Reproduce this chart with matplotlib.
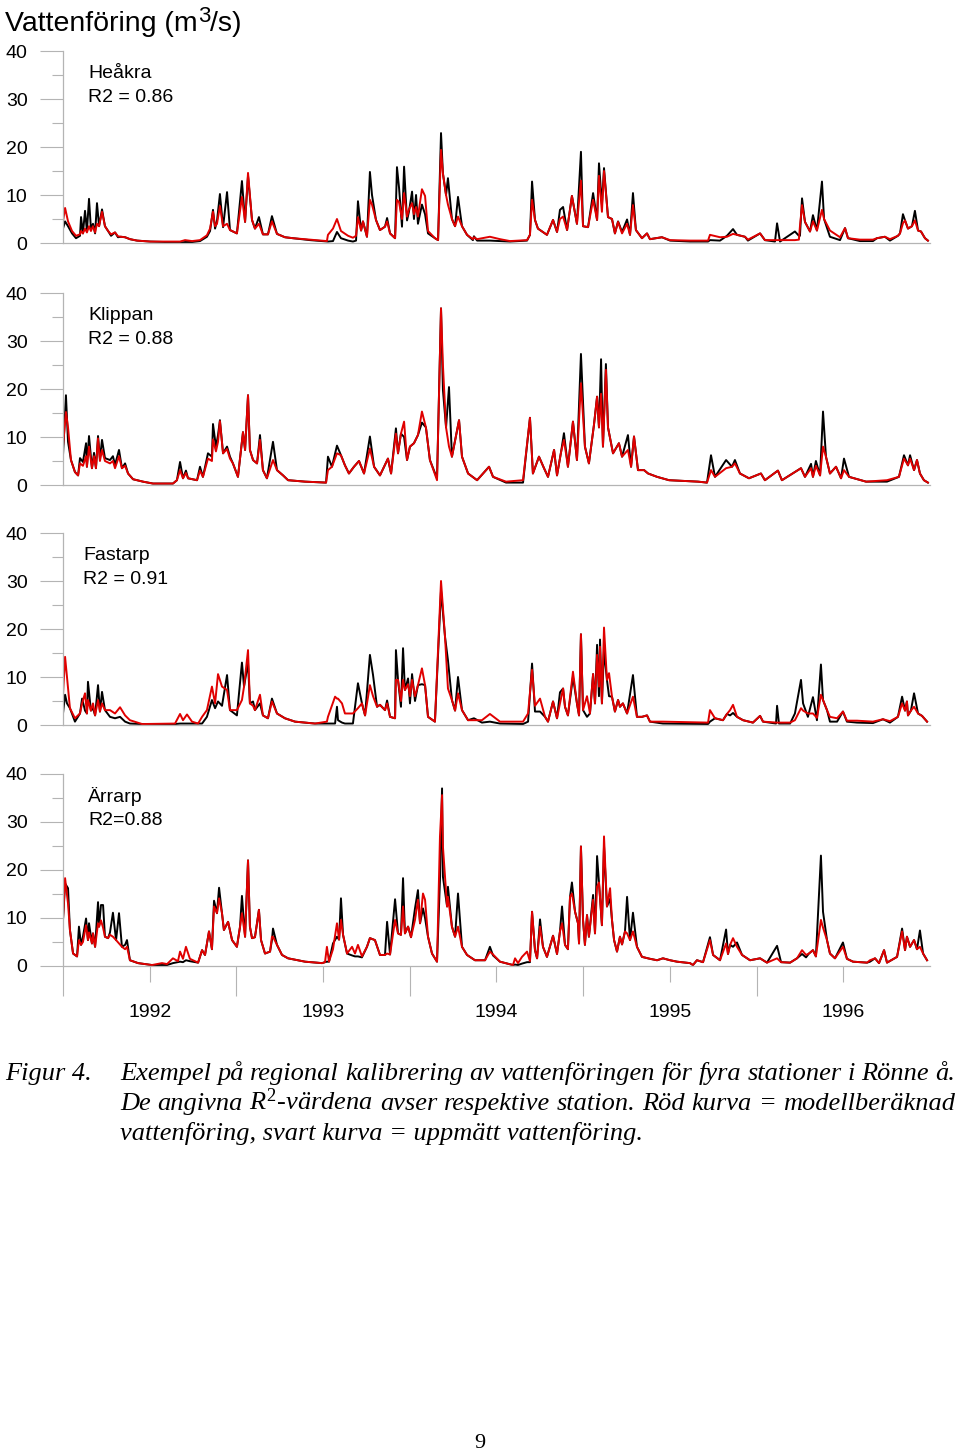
import matplotlib
matplotlib.use("Agg")
import matplotlib.pyplot as plt
from matplotlib.ticker import MultipleLocator, FixedLocator, NullFormatter

plt.rcParams['font.family'] = 'Liberation Sans'
plt.rcParams['mathtext.fontset'] = 'custom'
plt.rcParams['mathtext.rm'] = 'Liberation Serif'
plt.rcParams['mathtext.it'] = 'Liberation Serif:italic'
plt.rcParams['mathtext.sf'] = 'Liberation Sans'

heakra = [
    (1992.000, 3.0, 4.5), (1992.012, 4.5, 7.3), (1992.029, 3.5, 4.5), (1992.052, 2.0, 2.5), (1992.075, 1.0, 1.5),
    (1992.098, 1.5, 1.8), (1992.104, 5.4, 2.5), (1992.115, 2.0, 2.0), (1992.127, 6.7, 3.0), (1992.138, 2.5, 2.2),
    (1992.150, 9.2, 3.5), (1992.161, 3.0, 2.5), (1992.173, 4.0, 3.5), (1992.185, 2.0, 2.2), (1992.196, 8.3, 4.0),
    (1992.208, 3.5, 3.5), (1992.225, 7.0, 6.5), (1992.242, 3.5, 3.5), (1992.260, 2.5, 2.5), (1992.277, 1.5, 1.8),
    (1992.300, 2.2, 2.2), (1992.317, 1.2, 1.4), (1992.334, 1.3, 1.3), (1992.358, 1.2, 1.2), (1992.386, 0.8, 0.8),
    (1992.427, 0.5, 0.5), (1992.502, 0.3, 0.3), (1992.675, 0.1, 0.3), (1992.704, 0.2, 0.6), (1992.744, 0.2, 0.4),
    (1992.790, 0.4, 0.6), (1992.830, 1.3, 1.6), (1992.848, 2.5, 3.0), (1992.865, 6.9, 6.5), (1992.877, 3.0, 3.5),
    (1992.888, 4.6, 4.0), (1992.905, 10.2, 7.7), (1992.923, 3.3, 3.5), (1992.946, 10.6, 4.0), (1992.963, 2.7, 2.7),
    (1993.003, 2.0, 2.0), (1993.032, 12.9, 9.6), (1993.050, 4.4, 4.4), (1993.067, 14.0, 14.6), (1993.090, 4.8, 4.8),
    (1993.107, 3.0, 3.0), (1993.130, 5.4, 4.0), (1993.153, 1.8, 1.8), (1993.182, 1.8, 1.8), (1993.205, 5.6, 4.5),
    (1993.234, 1.9, 1.9), (1993.280, 1.2, 1.2), (1993.326, 1.0, 1.0), (1993.424, 0.6, 0.7), (1993.522, 0.3, 0.4),
    (1993.528, 0.3, 1.7), (1993.557, 0.4, 3.0), (1993.580, 2.3, 5.0), (1993.603, 1.0, 2.5), (1993.644, 0.5, 1.5),
    (1993.672, 0.3, 1.1), (1993.690, 0.5, 1.5), (1993.701, 8.7, 5.4), (1993.719, 2.6, 2.6), (1993.730, 4.5, 4.5),
    (1993.753, 1.3, 1.3), (1993.770, 14.8, 9.0), (1993.782, 10.0, 8.0), (1993.805, 4.8, 4.8), (1993.828, 2.7, 2.7),
    (1993.857, 3.4, 3.4), (1993.869, 5.2, 4.5), (1993.886, 2.0, 2.0), (1993.915, 1.0, 1.0), (1993.926, 15.8, 9.0),
    (1993.938, 11.5, 8.5), (1993.955, 3.4, 5.0), (1993.967, 15.9, 10.4), (1993.984, 4.7, 5.5), (1993.995, 6.5, 7.0),
    (1994.013, 10.7, 8.3), (1994.024, 5.0, 6.0), (1994.036, 10.0, 7.5), (1994.047, 4.0, 5.5), (1994.070, 8.0, 11.2),
    (1994.088, 6.0, 9.8), (1994.105, 2.0, 2.5), (1994.145, 1.0, 1.0), (1994.163, 0.6, 0.6), (1994.180, 22.9, 19.4),
    (1994.191, 14.5, 14.5), (1994.209, 10.0, 10.0), (1994.220, 13.5, 8.0), (1994.243, 5.0, 5.0), (1994.261, 3.5, 3.5),
    (1994.278, 9.6, 5.5), (1994.301, 3.5, 3.5), (1994.330, 1.7, 1.7), (1994.364, 0.6, 0.8), (1994.370, 1.4, 1.2),
    (1994.388, 0.5, 0.8), (1994.462, 0.5, 1.3), (1994.520, 0.4, 0.8), (1994.578, 0.3, 0.4), (1994.676, 0.5, 0.6),
    (1994.693, 1.7, 1.7), (1994.705, 12.8, 9.0), (1994.722, 4.8, 4.8), (1994.739, 3.0, 3.0), (1994.791, 1.7, 1.7),
    (1994.826, 4.8, 4.8), (1994.849, 2.3, 2.3), (1994.866, 6.9, 5.0), (1994.884, 7.5, 5.5), (1994.907, 2.7, 2.7),
    (1994.935, 9.8, 9.8), (1994.964, 4.0, 4.0), (1994.987, 19.0, 13.0), (1994.999, 3.5, 3.5), (1995.028, 3.3, 3.3),
    (1995.057, 10.4, 9.0), (1995.080, 4.8, 4.8), (1995.091, 16.6, 14.0), (1995.108, 8.0, 6.5), (1995.120, 15.6, 15.0),
    (1995.143, 5.4, 5.4), (1995.166, 5.0, 5.0), (1995.183, 2.0, 2.0), (1995.201, 4.5, 4.4), (1995.224, 2.3, 2.0),
    (1995.253, 4.9, 4.0), (1995.270, 1.7, 1.7), (1995.287, 10.4, 7.9), (1995.304, 2.7, 2.7), (1995.339, 1.0, 1.0),
    (1995.368, 2.0, 2.0), (1995.385, 0.8, 0.8), (1995.454, 1.2, 1.2), (1995.501, 0.5, 0.6), (1995.616, 0.3, 0.5),
    (1995.720, 0.3, 0.5), (1995.731, 0.6, 1.7), (1995.789, 0.5, 1.2), (1995.829, 1.5, 1.3), (1995.864, 2.9, 1.9),
    (1995.887, 1.7, 1.7), (1995.933, 1.3, 1.3), (1995.950, 0.5, 0.7), (1996.020, 2.0, 2.0), (1996.048, 0.6, 0.6),
    (1996.106, 0.3, 0.6), (1996.118, 4.1, 0.6), (1996.135, 0.3, 0.6), (1996.221, 2.4, 0.6), (1996.244, 1.5, 0.7),
    (1996.250, 1.5, 3.5), (1996.262, 9.3, 7.9), (1996.279, 4.4, 4.4), (1996.308, 2.4, 2.4), (1996.325, 5.8, 4.5),
    (1996.348, 2.6, 2.6), (1996.377, 12.8, 6.9), (1996.389, 5.0, 5.0), (1996.423, 1.3, 2.6), (1996.481, 0.6, 1.2),
    (1996.510, 3.1, 3.1), (1996.527, 1.0, 1.0), (1996.596, 0.4, 0.7), (1996.671, 0.4, 0.7), (1996.694, 1.0, 1.0),
    (1996.740, 1.3, 1.3), (1996.769, 0.5, 0.8), (1996.815, 1.5, 1.5), (1996.827, 2.0, 2.0), (1996.844, 6.0, 4.1),
    (1996.856, 4.7, 4.7), (1996.873, 3.0, 3.0), (1996.896, 3.5, 3.5), (1996.913, 6.7, 4.7), (1996.931, 2.6, 2.6),
    (1996.948, 2.4, 2.4), (1996.971, 1.0, 1.0), (1996.988, 0.5, 0.5),
]

klippan = [
    (1992.000, 6.2, 8.0), (1992.017, 18.7, 15.2), (1992.029, 9.0, 12.0), (1992.046, 5.2, 5.2), (1992.069, 2.7, 2.7),
    (1992.087, 2.0, 2.0), (1992.098, 5.6, 4.5), (1992.115, 4.8, 4.0), (1992.133, 8.7, 6.0), (1992.138, 3.8, 3.8),
    (1992.150, 10.2, 8.0), (1992.167, 3.5, 3.5), (1992.179, 6.7, 6.0), (1992.190, 3.5, 3.5), (1992.202, 10.2, 9.7),
    (1992.213, 5.5, 5.0), (1992.225, 9.4, 7.3), (1992.242, 5.6, 5.0), (1992.271, 5.2, 4.5), (1992.288, 6.0, 5.0),
    (1992.300, 4.2, 3.5), (1992.323, 7.3, 6.0), (1992.340, 3.5, 3.5), (1992.358, 4.5, 4.0), (1992.375, 2.4, 2.4),
    (1992.404, 1.2, 1.2), (1992.461, 0.7, 0.7), (1992.519, 0.3, 0.3), (1992.634, 0.3, 0.3), (1992.657, 1.0, 1.0),
    (1992.675, 4.8, 3.1), (1992.692, 1.4, 1.4), (1992.709, 3.0, 2.5), (1992.721, 1.4, 1.4), (1992.773, 1.0, 1.0),
    (1992.790, 3.8, 3.0), (1992.807, 1.7, 1.7), (1992.836, 6.6, 5.5), (1992.859, 5.9, 5.0), (1992.865, 12.7, 9.5),
    (1992.882, 8.0, 7.0), (1992.894, 10.4, 9.0), (1992.905, 13.5, 13.3), (1992.923, 6.6, 6.6), (1992.946, 8.0, 7.5),
    (1992.963, 5.9, 5.5), (1992.980, 4.5, 4.5), (1993.009, 1.7, 1.7), (1993.038, 11.0, 11.0), (1993.050, 7.3, 7.3),
    (1993.067, 18.7, 18.7), (1993.078, 7.3, 7.3), (1993.096, 5.2, 5.2), (1993.119, 4.5, 4.5), (1993.136, 10.4, 9.4),
    (1993.153, 3.1, 3.1), (1993.176, 1.4, 1.4), (1993.211, 9.0, 5.2), (1993.234, 3.1, 3.1), (1993.269, 2.0, 2.0),
    (1993.298, 1.0, 1.0), (1993.396, 0.7, 0.7), (1993.517, 0.5, 0.5), (1993.528, 5.9, 3.1), (1993.551, 3.8, 3.8),
    (1993.580, 8.2, 6.6), (1993.603, 6.2, 6.2), (1993.626, 4.1, 4.1), (1993.649, 2.4, 2.4), (1993.678, 3.8, 3.8),
    (1993.707, 5.0, 5.0), (1993.736, 2.4, 2.4), (1993.770, 10.1, 7.6), (1993.794, 3.8, 3.8), (1993.828, 2.0, 2.0),
    (1993.874, 5.5, 5.5), (1993.892, 2.4, 2.4), (1993.920, 11.8, 10.7), (1993.932, 6.6, 6.6), (1993.949, 10.7, 10.7),
    (1993.967, 10.0, 13.2), (1993.984, 5.2, 5.2), (1994.001, 8.0, 8.0), (1994.024, 8.7, 8.7), (1994.047, 10.4, 10.4),
    (1994.070, 13.0, 15.3), (1994.093, 12.0, 12.0), (1994.116, 5.2, 5.2), (1994.157, 1.4, 1.0), (1994.180, 36.8, 36.8),
    (1994.191, 19.8, 25.0), (1994.209, 12.0, 12.0), (1994.226, 20.4, 8.0), (1994.243, 5.9, 5.9), (1994.284, 13.5, 13.5),
    (1994.301, 5.9, 5.9), (1994.336, 2.4, 2.4), (1994.388, 1.0, 1.0), (1994.457, 3.8, 3.8), (1994.480, 1.7, 1.7),
    (1994.555, 0.5, 0.7), (1994.653, 0.5, 1.0), (1994.693, 14.0, 14.0), (1994.710, 2.4, 2.4), (1994.745, 5.9, 5.9),
    (1994.774, 3.5, 3.5), (1994.797, 1.7, 1.7), (1994.832, 7.3, 7.3), (1994.849, 2.0, 2.0), (1994.872, 6.8, 6.8),
    (1994.889, 10.8, 9.4), (1994.912, 3.8, 3.8), (1994.941, 13.2, 13.2), (1994.964, 5.2, 5.2), (1994.987, 27.3, 21.2),
    (1995.010, 8.0, 8.0), (1995.033, 4.5, 4.5), (1995.062, 12.5, 12.5), (1995.080, 18.4, 18.4), (1995.091, 12.0, 12.0),
    (1995.103, 26.2, 19.0), (1995.114, 8.0, 8.0), (1995.131, 25.2, 24.0), (1995.143, 12.0, 12.0), (1995.172, 6.6, 6.6),
    (1995.206, 8.7, 8.7), (1995.224, 5.9, 5.9), (1995.258, 10.4, 7.3), (1995.276, 3.8, 3.8), (1995.293, 10.1, 10.1),
    (1995.316, 3.1, 3.1), (1995.351, 3.1, 3.1), (1995.374, 2.4, 2.4), (1995.426, 1.7, 1.7), (1995.495, 1.0, 1.0),
    (1995.662, 0.7, 0.7), (1995.714, 0.5, 0.5), (1995.737, 6.2, 3.1), (1995.760, 1.7, 1.7), (1995.824, 5.2, 3.5),
    (1995.858, 3.8, 3.8), (1995.875, 5.2, 4.5), (1995.904, 2.4, 2.4), (1995.956, 1.4, 1.4), (1996.025, 2.4, 2.4),
    (1996.048, 1.0, 1.0), (1996.123, 3.0, 3.0), (1996.146, 1.0, 1.0), (1996.256, 3.5, 3.5), (1996.279, 1.7, 1.7),
    (1996.314, 4.4, 3.5), (1996.325, 1.7, 1.7), (1996.342, 5.0, 4.0), (1996.366, 2.0, 2.0), (1996.383, 15.3, 8.0),
    (1996.400, 5.9, 5.9), (1996.423, 2.4, 2.4), (1996.458, 3.8, 3.8), (1996.487, 1.4, 1.4), (1996.504, 5.5, 3.1),
    (1996.533, 1.7, 1.7), (1996.631, 0.7, 0.7), (1996.752, 0.7, 1.0), (1996.821, 1.7, 1.7), (1996.850, 6.2, 5.5),
    (1996.873, 4.1, 4.1), (1996.885, 6.2, 5.5), (1996.908, 3.1, 3.1), (1996.925, 5.2, 5.2), (1996.942, 2.4, 2.4),
    (1996.965, 1.0, 1.0), (1996.988, 0.5, 0.5),
]

fastarp = [
    (1992.000, 2.4, 6.3), (1992.012, 6.3, 14.2), (1992.023, 4.5, 10.0), (1992.040, 3.5, 3.5), (1992.069, 0.7, 1.4),
    (1992.098, 2.4, 2.4), (1992.110, 5.5, 4.5), (1992.127, 3.0, 6.6), (1992.138, 2.4, 2.4), (1992.144, 9.0, 5.2),
    (1992.161, 3.0, 3.0), (1992.173, 3.5, 4.5), (1992.185, 2.0, 2.0), (1992.202, 8.3, 5.2), (1992.213, 2.8, 2.8),
    (1992.225, 6.9, 4.5), (1992.242, 3.1, 3.1), (1992.271, 1.7, 3.1), (1992.300, 1.4, 2.4), (1992.329, 1.7, 3.7),
    (1992.358, 0.7, 2.0), (1992.386, 0.3, 1.0), (1992.456, 0.2, 0.2), (1992.646, 0.2, 0.3), (1992.675, 0.3, 2.3),
    (1992.692, 0.3, 1.0), (1992.715, 0.3, 2.2), (1992.744, 0.3, 0.7), (1992.779, 0.3, 0.3), (1992.802, 0.3, 1.7),
    (1992.830, 1.7, 3.1), (1992.859, 5.2, 8.0), (1992.877, 3.5, 4.5), (1992.894, 4.9, 10.6), (1992.917, 4.0, 8.0),
    (1992.946, 10.4, 7.3), (1992.963, 3.1, 3.1), (1993.003, 2.0, 3.1), (1993.032, 13.0, 5.2), (1993.044, 8.0, 8.0),
    (1993.067, 13.0, 15.6), (1993.078, 4.5, 4.5), (1993.096, 4.9, 4.0), (1993.107, 3.1, 3.1), (1993.136, 4.5, 6.3),
    (1993.153, 2.0, 2.0), (1993.182, 1.4, 1.4), (1993.205, 5.5, 4.9), (1993.234, 2.4, 2.4), (1993.280, 1.4, 1.4),
    (1993.338, 0.7, 0.7), (1993.453, 0.3, 0.3), (1993.522, 0.3, 0.7), (1993.528, 0.3, 1.7), (1993.569, 0.3, 5.9),
    (1993.580, 3.8, 5.5), (1993.586, 1.0, 5.5), (1993.609, 0.5, 4.5), (1993.626, 0.3, 2.4), (1993.672, 0.3, 2.4),
    (1993.701, 8.7, 3.5), (1993.724, 4.5, 4.5), (1993.742, 2.0, 2.0), (1993.770, 14.6, 8.3), (1993.788, 10.4, 6.0),
    (1993.811, 3.8, 3.8), (1993.828, 4.2, 4.2), (1993.857, 3.1, 3.1), (1993.869, 5.1, 4.5), (1993.886, 1.7, 1.7),
    (1993.915, 1.4, 1.4), (1993.920, 15.6, 9.4), (1993.932, 9.4, 9.4), (1993.949, 3.8, 5.0), (1993.961, 16.0, 9.4),
    (1993.972, 7.3, 7.3), (1993.990, 9.7, 8.5), (1994.001, 4.5, 6.0), (1994.013, 10.6, 9.4), (1994.030, 5.0, 6.0),
    (1994.047, 8.3, 8.3), (1994.070, 8.5, 11.8), (1994.088, 8.3, 8.3), (1994.105, 1.7, 1.7), (1994.145, 0.7, 0.7),
    (1994.180, 28.0, 30.0), (1994.203, 18.4, 18.4), (1994.220, 13.5, 7.6), (1994.243, 5.2, 5.2), (1994.261, 3.0, 3.0),
    (1994.278, 10.0, 6.6), (1994.301, 3.1, 3.1), (1994.336, 1.0, 1.0), (1994.370, 1.4, 1.0), (1994.416, 0.5, 1.0),
    (1994.462, 0.7, 2.3), (1994.520, 0.3, 0.7), (1994.653, 0.2, 0.7), (1994.682, 0.7, 2.4), (1994.705, 12.8, 11.5),
    (1994.722, 2.8, 4.0), (1994.751, 2.8, 5.5), (1994.780, 1.7, 1.7), (1994.797, 0.7, 0.7), (1994.826, 4.9, 4.9),
    (1994.849, 1.4, 1.4), (1994.866, 6.8, 4.5), (1994.884, 7.6, 7.6), (1994.895, 3.8, 3.8), (1994.912, 2.0, 2.0),
    (1994.941, 10.0, 11.1), (1994.964, 4.5, 4.5), (1994.976, 2.0, 2.0), (1994.987, 18.9, 18.9), (1994.999, 3.1, 3.1),
    (1995.022, 1.7, 6.0), (1995.039, 2.4, 2.4), (1995.057, 10.6, 10.6), (1995.068, 4.5, 4.5), (1995.080, 16.7, 14.6),
    (1995.091, 6.0, 8.0), (1995.097, 17.8, 16.3), (1995.108, 4.5, 4.5), (1995.120, 15.6, 20.3), (1995.137, 9.4, 9.4),
    (1995.149, 6.0, 10.8), (1995.166, 5.9, 5.9), (1995.183, 2.8, 2.8), (1995.201, 5.2, 5.2), (1995.212, 3.8, 3.8),
    (1995.229, 4.5, 4.5), (1995.253, 2.4, 2.4), (1995.287, 10.4, 5.9), (1995.310, 1.7, 1.7), (1995.339, 1.7, 1.7),
    (1995.368, 2.0, 2.0), (1995.385, 0.7, 0.7), (1995.460, 0.3, 0.7), (1995.720, 0.2, 0.5), (1995.731, 0.7, 3.1),
    (1995.760, 1.4, 1.4), (1995.806, 1.0, 1.0), (1995.829, 2.3, 2.3), (1995.847, 2.0, 3.1), (1995.864, 2.5, 4.2),
    (1995.887, 1.7, 1.7), (1995.922, 1.0, 1.0), (1995.979, 0.5, 0.5), (1996.020, 1.9, 1.9), (1996.037, 0.7, 0.7),
    (1996.112, 0.3, 0.5), (1996.118, 4.0, 0.5), (1996.129, 0.3, 0.5), (1996.193, 0.3, 0.5), (1996.221, 2.4, 1.0),
    (1996.256, 9.4, 3.5), (1996.268, 4.5, 3.0), (1996.296, 1.7, 2.4), (1996.325, 5.8, 2.4), (1996.348, 1.0, 1.5),
    (1996.371, 12.6, 6.3), (1996.383, 5.2, 5.2), (1996.406, 3.1, 3.1), (1996.423, 0.7, 1.7), (1996.464, 0.7, 1.4),
    (1996.498, 2.8, 2.8), (1996.521, 0.7, 0.9), (1996.579, 0.5, 0.9), (1996.671, 0.4, 0.7), (1996.729, 1.2, 1.2),
    (1996.769, 0.5, 0.8), (1996.815, 1.7, 1.7), (1996.839, 5.9, 4.5), (1996.856, 3.0, 3.0), (1996.867, 4.9, 4.9),
    (1996.873, 2.0, 2.0), (1996.890, 3.0, 3.0), (1996.908, 6.6, 3.8), (1996.931, 2.4, 2.4), (1996.954, 1.9, 1.9),
    (1996.983, 0.7, 0.7),
]

arrarp = [
    (1992.000, 9.6, 9.6), (1992.012, 17.2, 18.3), (1992.029, 16.2, 13.0), (1992.040, 7.5, 7.5), (1992.058, 2.6, 2.6),
    (1992.081, 2.0, 2.0), (1992.092, 8.2, 5.4), (1992.104, 4.4, 4.4), (1992.115, 6.1, 5.0), (1992.133, 9.9, 8.5),
    (1992.144, 5.4, 5.4), (1992.150, 8.9, 7.0), (1992.167, 4.7, 4.7), (1992.173, 6.8, 6.8), (1992.185, 4.0, 4.0),
    (1992.202, 13.3, 8.9), (1992.208, 8.2, 8.2), (1992.219, 12.7, 9.5), (1992.231, 12.7, 8.0), (1992.242, 6.1, 6.1),
    (1992.260, 5.8, 5.8), (1992.271, 7.0, 6.5), (1992.288, 11.1, 6.1), (1992.306, 5.4, 5.4), (1992.323, 11.0, 4.7),
    (1992.340, 4.0, 4.0), (1992.358, 4.4, 3.5), (1992.369, 5.4, 4.0), (1992.386, 1.2, 1.2), (1992.433, 0.6, 0.6),
    (1992.513, 0.2, 0.2), (1992.571, 0.2, 0.6), (1992.600, 0.2, 0.4), (1992.634, 0.6, 1.6), (1992.663, 0.8, 1.0),
    (1992.675, 0.9, 3.0), (1992.692, 0.8, 1.5), (1992.709, 1.2, 4.0), (1992.732, 1.0, 1.5), (1992.779, 0.7, 0.7),
    (1992.802, 3.3, 3.3), (1992.819, 2.3, 2.3), (1992.842, 7.2, 7.2), (1992.859, 3.5, 3.5), (1992.871, 13.6, 12.4),
    (1992.888, 11.0, 11.0), (1992.900, 16.3, 14.1), (1992.917, 11.0, 11.0), (1992.928, 7.5, 7.5), (1992.952, 9.2, 9.2),
    (1992.975, 5.4, 5.4), (1993.003, 4.0, 4.0), (1993.021, 8.2, 8.2), (1993.032, 14.6, 11.0), (1993.050, 6.1, 6.1),
    (1993.067, 22.0, 22.0), (1993.078, 8.2, 8.2), (1993.090, 5.8, 5.8), (1993.107, 6.0, 6.0), (1993.130, 11.7, 11.7),
    (1993.142, 5.4, 5.4), (1993.165, 2.6, 2.6), (1993.194, 3.0, 3.0), (1993.205, 5.4, 6.1), (1993.211, 7.8, 6.1),
    (1993.234, 4.4, 4.4), (1993.263, 2.3, 2.3), (1993.298, 1.6, 1.6), (1993.396, 0.9, 0.9), (1993.494, 0.6, 0.6),
    (1993.511, 0.8, 0.8), (1993.522, 0.9, 4.0), (1993.534, 0.9, 0.9), (1993.557, 4.7, 3.5), (1993.580, 6.1, 8.9),
    (1993.592, 5.5, 5.5), (1993.603, 14.1, 9.6), (1993.615, 6.5, 6.5), (1993.638, 2.6, 2.6), (1993.667, 2.2, 4.0),
    (1993.684, 2.0, 2.6), (1993.701, 2.0, 4.4), (1993.724, 1.8, 2.0), (1993.753, 4.0, 4.0), (1993.770, 5.8, 5.8),
    (1993.799, 5.4, 5.4), (1993.828, 2.3, 2.3), (1993.857, 2.3, 2.3), (1993.869, 9.2, 2.6), (1993.886, 2.4, 2.4),
    (1993.915, 13.9, 9.6), (1993.932, 6.8, 6.8), (1993.949, 6.5, 6.5), (1993.961, 18.3, 12.4), (1993.972, 6.8, 6.8),
    (1993.990, 8.2, 8.2), (1994.007, 6.0, 6.0), (1994.030, 12.0, 9.6), (1994.047, 15.8, 13.8), (1994.059, 8.9, 8.9),
    (1994.076, 12.0, 15.1), (1994.088, 10.0, 13.8), (1994.105, 6.1, 6.1), (1994.128, 2.6, 2.6), (1994.157, 0.9, 0.9),
    (1994.174, 18.0, 27.0), (1994.186, 37.0, 35.6), (1994.191, 18.6, 24.9), (1994.215, 12.4, 12.4), (1994.220, 16.5, 14.4),
    (1994.243, 8.2, 8.2), (1994.261, 6.1, 6.1), (1994.278, 15.1, 8.2), (1994.301, 4.0, 4.0), (1994.330, 2.3, 2.3),
    (1994.376, 1.2, 1.2), (1994.434, 1.2, 1.2), (1994.462, 4.0, 3.0), (1994.480, 2.2, 2.4), (1994.520, 0.9, 0.9),
    (1994.595, 0.2, 0.2), (1994.607, 0.3, 1.6), (1994.624, 0.2, 0.6), (1994.647, 0.5, 1.9), (1994.676, 0.8, 3.0),
    (1994.693, 0.8, 1.0), (1994.705, 11.3, 11.3), (1994.722, 3.3, 3.3), (1994.734, 1.6, 1.6), (1994.751, 9.7, 8.2),
    (1994.768, 4.0, 4.0), (1994.791, 1.9, 1.9), (1994.826, 6.3, 6.3), (1994.849, 2.5, 2.5), (1994.866, 7.2, 7.2),
    (1994.878, 12.4, 8.9), (1994.895, 4.4, 4.4), (1994.912, 3.5, 3.5), (1994.924, 14.4, 14.4), (1994.935, 17.4, 15.1),
    (1994.953, 11.3, 11.3), (1994.970, 8.9, 8.9), (1994.976, 4.7, 4.7), (1994.987, 24.9, 24.9), (1994.999, 9.6, 9.6),
    (1995.010, 4.4, 4.4), (1995.022, 10.6, 10.6), (1995.033, 6.1, 6.1), (1995.057, 14.8, 13.8), (1995.068, 6.8, 6.8),
    (1995.080, 22.9, 16.5), (1995.091, 17.4, 17.4), (1995.108, 8.5, 8.5), (1995.120, 25.0, 27.0), (1995.137, 12.4, 12.4),
    (1995.155, 14.0, 16.2), (1995.166, 9.6, 9.6), (1995.178, 5.4, 5.4), (1995.195, 3.0, 3.0), (1995.212, 6.1, 6.1),
    (1995.224, 4.5, 4.5), (1995.241, 7.2, 7.2), (1995.253, 14.4, 6.8), (1995.270, 5.4, 5.4), (1995.287, 11.1, 7.2),
    (1995.310, 4.0, 4.0), (1995.339, 1.9, 1.9), (1995.385, 1.5, 1.5), (1995.426, 1.2, 1.2), (1995.460, 1.6, 1.6),
    (1995.501, 1.2, 1.2), (1995.541, 0.9, 0.9), (1995.616, 0.6, 0.6), (1995.633, 0.2, 0.2), (1995.656, 1.2, 1.2),
    (1995.691, 0.8, 0.8), (1995.731, 6.0, 5.4), (1995.749, 2.3, 2.3), (1995.789, 1.2, 1.2), (1995.824, 7.6, 4.7),
    (1995.835, 2.5, 2.5), (1995.847, 4.4, 4.4), (1995.864, 4.0, 5.8), (1995.887, 4.9, 4.0), (1995.916, 2.3, 2.3),
    (1995.962, 1.2, 1.2), (1996.020, 1.6, 1.6), (1996.060, 0.7, 0.7), (1996.118, 4.2, 1.6), (1996.141, 0.8, 0.8),
    (1996.193, 0.7, 0.7), (1996.233, 1.6, 1.6), (1996.262, 2.5, 3.3), (1996.285, 1.8, 2.3), (1996.302, 2.6, 2.6),
    (1996.325, 3.3, 3.3), (1996.342, 2.0, 2.0), (1996.371, 23.0, 9.6), (1996.383, 11.3, 8.0), (1996.406, 5.4, 5.4),
    (1996.423, 2.6, 2.6), (1996.452, 1.6, 1.6), (1996.498, 4.9, 4.0), (1996.521, 1.5, 1.5), (1996.556, 0.9, 0.9),
    (1996.637, 0.7, 0.7), (1996.654, 0.9, 1.2), (1996.683, 1.6, 1.6), (1996.706, 0.6, 0.6), (1996.735, 3.3, 3.3),
    (1996.752, 0.7, 0.7), (1996.810, 1.9, 1.9), (1996.839, 7.8, 7.2), (1996.856, 3.3, 3.3), (1996.867, 6.1, 6.1),
    (1996.885, 4.0, 4.0), (1996.908, 5.4, 5.4), (1996.925, 3.5, 3.5), (1996.942, 7.4, 4.0), (1996.960, 2.6, 2.6),
    (1996.983, 1.2, 1.2),
]

stations = ["Heåkra", "Klippan", "Fastarp", "Ärrarp"]
r2_text = ["R2 = 0.86", "R2 = 0.88", "R2 = 0.91", "R2=0.88"]
series = [heakra, klippan, fastarp, arrarp]
years = [1992, 1993, 1994, 1995, 1996]

W, H = 960, 1453
fig = plt.figure(figsize=(W / 100, H / 100), dpi=100)
renderer = fig.canvas.get_renderer()

GREY = "#b4b4b4"
zero_px = [243, 485, 725, 966]      # pixel row of y=0 for each panel
label_px = [88, 88, 83, 88]

for i, data in enumerate(series):
    ax = fig.add_axes([63 / W, 1 - zero_px[i] / H, 867 / W, 192 / H])
    t = [d[0] for d in data]
    obs = [d[1] for d in data]
    mod = [d[2] for d in data]
    ax.plot(t, obs, color="black", lw=1.4)
    ax.plot(t, mod, color="#e00000", lw=1.4)
    ax.set_xlim(1992, 1997)
    ax.set_ylim(0, 40)
    for s in ["top", "right"]:
        ax.spines[s].set_visible(False)
    for s in ["left", "bottom"]:
        ax.spines[s].set_color(GREY)
        ax.spines[s].set_linewidth(0.9)
    ax.yaxis.set_major_locator(MultipleLocator(10))
    ax.yaxis.set_minor_locator(MultipleLocator(5))
    ax.tick_params(axis="y", which="major", length=16.5, width=0.8, color=GREY, pad=9, labelsize=14)
    ax.tick_params(axis="y", which="minor", length=8, width=0.8, color=GREY)

    xl = 1992 + (label_px[i] - 63) / 173.4
    ax.text(xl, 35.4, stations[i], fontsize=14, va="center")
    ax.text(xl, 30.4, r2_text[i], fontsize=14, va="center")

    if i < 3:
        ax.set_xticks([])
    else:
        ax.xaxis.set_major_locator(FixedLocator(years))
        ax.xaxis.set_major_formatter(NullFormatter())
        ax.set_xticks([y + 0.5 for y in years], [str(y) for y in years], minor=True)
        ax.tick_params(axis="x", which="major", length=21.6, width=0.8, color=GREY)
        ax.tick_params(axis="x", which="minor", length=11.5, width=0.8, color=GREY, pad=16, labelsize=14)

# title with a large raised 3
ty = 1 - 31 / H
t1 = fig.text(5 / W, ty, "Vattenföring (m", fontsize=20.5, va="baseline")
x = 5 + t1.get_window_extent(renderer=renderer).width
t2 = fig.text(x / W, ty + 9 / H, "3", fontsize=16, va="baseline")
x += t2.get_window_extent(renderer=renderer).width
fig.text(x / W, ty, "/s)", fontsize=20.5, va="baseline")

# caption, justified like the printed page
cap = dict(fontsize=19, family="Liberation Serif", style="italic", va="baseline")


def justified(words, y_px, x0=120, x1=955):
    items = [fig.text(0, 1 - y_px / H, w, **cap) for w in words]
    widths = [it.get_window_extent(renderer=renderer).width for it in items]
    gap = (x1 - x0 - sum(widths)) / (len(items) - 1)
    x = x0
    for it, w in zip(items, widths):
        it.set_x(x / W)
        x += w + gap


fig.text(5 / W, 1 - 1080 / H, "Figur 4.", **cap)
justified("Exempel på regional kalibrering av vattenföringen för fyra stationer i Rönne å.".split(), 1080)
justified(r"De angivna $R^{\mathit{2}}$-värdena avser respektive station. Röd kurva = modellberäknad".split(), 1110)
fig.text(120 / W, 1 - 1140 / H, "vattenföring, svart kurva = uppmätt vattenföring.", **cap)

fig.text(480 / W, 1 - 1444 / H, "9", fontsize=16, family="Liberation Serif", ha="center", va="center")

fig.savefig("out.png", dpi=100)
